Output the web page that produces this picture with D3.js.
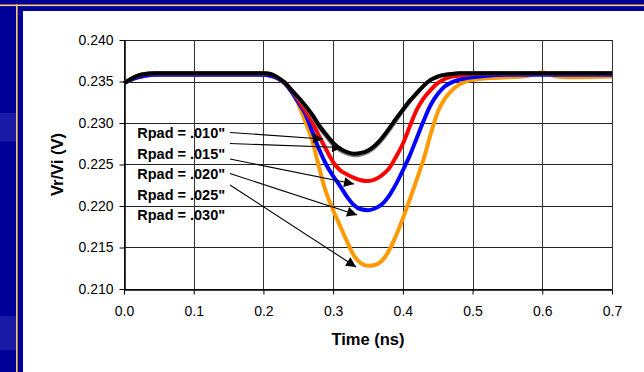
<!DOCTYPE html>
<html>
<head>
<meta charset="utf-8">
<script src="https://cdn.jsdelivr.net/npm/d3@7"></script>
<style>
  body { margin: 0; overflow: hidden; background: #000099; }
  text { font-family: Arial, "Liberation Sans", sans-serif; }
</style>
</head>
<body>
<div id="chart"></div>
<script>
// time axis (ns), shared by all traces
const TIME = [0, 0.01, 0.02, 0.03, 0.045, 0.1, 0.15, 0.2, 0.21, 0.22, 0.23, 0.24, 0.25, 0.26, 0.27,
  0.28, 0.29, 0.30, 0.31, 0.32, 0.33, 0.34, 0.35, 0.36, 0.37, 0.38, 0.39, 0.40, 0.41, 0.42, 0.43,
  0.44, 0.45, 0.46, 0.47, 0.48, 0.49, 0.50, 0.52, 0.55, 0.58, 0.60, 0.62, 0.65, 0.70]

// Vr/Vi (V)
const RPAD_010 = [0.2348, 0.2353, 0.2357, 0.2359, 0.2360, 0.2360, 0.2360, 0.2360, 0.2359, 0.2355, 0.2349,
  0.2340, 0.2330, 0.2320, 0.2308, 0.2295, 0.2284, 0.2274, 0.2267, 0.2263, 0.2261, 0.2262, 0.2265, 0.2271,
  0.2280, 0.2291, 0.2303, 0.2315, 0.2326, 0.2336, 0.2345, 0.2352, 0.2356, 0.2358, 0.2359, 0.2360, 0.2360,
  0.2360, 0.2360, 0.2360, 0.2360, 0.2360, 0.2360, 0.2360, 0.2360]
const RPAD_015 = [0.2348, 0.2353, 0.2357, 0.2359, 0.2360, 0.2360, 0.2360, 0.2360, 0.2359, 0.2355, 0.2349,
  0.2340, 0.2331, 0.2321, 0.2310, 0.2297, 0.2286, 0.2276, 0.2269, 0.2265, 0.2263, 0.2264, 0.2267, 0.2273,
  0.2282, 0.2293, 0.2305, 0.2316, 0.2327, 0.2336, 0.2345, 0.2352, 0.2356, 0.2358, 0.2359, 0.2360, 0.2360,
  0.2360, 0.2360, 0.2360, 0.2360, 0.2360, 0.2360, 0.2360, 0.2360]
const RPAD_020 = [0.2348, 0.2353, 0.2357, 0.2359, 0.2360, 0.2360, 0.2360, 0.2360, 0.2359, 0.2355, 0.2349,
  0.2340, 0.2328, 0.2315, 0.2301, 0.2284, 0.2268, 0.2253, 0.2243, 0.2238, 0.2234, 0.2231, 0.2230, 0.2232,
  0.2237, 0.2245, 0.2259, 0.2275, 0.2296, 0.2316, 0.2330, 0.2340, 0.2348, 0.2353, 0.2356, 0.2357, 0.2358,
  0.2359, 0.2360, 0.2360, 0.2360, 0.2360, 0.2360, 0.2360, 0.2360]
const RPAD_025 = [0.2348, 0.2352, 0.2355, 0.2357, 0.2358, 0.2358, 0.2358, 0.2358, 0.2357, 0.2354, 0.2348,
  0.2338, 0.2325, 0.2311, 0.2290, 0.2268, 0.2250, 0.2236, 0.2224, 0.2211, 0.2201, 0.2196, 0.2195, 0.2197,
  0.2202, 0.2212, 0.2226, 0.2243, 0.2261, 0.2282, 0.2303, 0.2322, 0.2335, 0.2344, 0.2349, 0.2352, 0.2354,
  0.2355, 0.2357, 0.2358, 0.2358, 0.2358, 0.2358, 0.2358, 0.2358]
const RPAD_030 = [0.2348, 0.2352, 0.2355, 0.2357, 0.2358, 0.2358, 0.2358, 0.2358, 0.2357, 0.2354, 0.2348,
  0.2339, 0.2323, 0.2302, 0.2279, 0.2246, 0.2216, 0.2195, 0.2176, 0.2157, 0.2140, 0.2131, 0.2128, 0.2129,
  0.2134, 0.2146, 0.2164, 0.2185, 0.2208, 0.2232, 0.2257, 0.2287, 0.2313, 0.2329, 0.2339, 0.2346, 0.2350,
  0.2352, 0.2354, 0.2355, 0.2357, 0.2361, 0.2356, 0.2355, 0.2356]

const LABELS = ['Rpad = .010"', 'Rpad = .015"', 'Rpad = .020"', 'Rpad = .025"', 'Rpad = .030"']
const COLORS = ['#808080', '#000000', '#ff0000', '#0000ff', '#ff9900']
// drawing order bottom -> top
const ORDER = [4, 3, 2, 0, 1]

// annotation anchors, in data units
const LABEL_X = 0.019
const LABEL_Y = [0.22816, 0.22572, 0.22325, 0.22078, 0.21831]
const ARROW_X0 = 0.152
const ARROW_Y0 = [0.22886, 0.22753, 0.22566, 0.22392, 0.22253]
const ARROW_X1 = [0.2855, 0.3128, 0.3300, 0.3343, 0.3329]
const ARROW_Y1 = [0.22807, 0.22705, 0.22265, 0.21892, 0.21265]

const X_TICKS = [0, 0.1, 0.2, 0.3, 0.4, 0.5, 0.6, 0.7]
const Y_TICKS = [0.210, 0.215, 0.220, 0.225, 0.230, 0.235, 0.240]

const W = 644, H = 372
const series = [RPAD_010, RPAD_015, RPAD_020, RPAD_025, RPAD_030]

const svg = d3.select('#chart').append('svg')
  .attr('width', W).attr('height', H)

// slide background + frame
svg.append('rect').attr('width', W).attr('height', H).attr('fill', '#000099')
svg.append('rect').attr('x', 0).attr('y', 113).attr('width', 16).attr('height', 28).attr('fill', '#1a1aa6')
svg.append('rect').attr('x', 0).attr('y', 316).attr('width', 16).attr('height', 34).attr('fill', '#1a1aa6')
svg.append('rect').attr('x', 0).attr('y', 4.5).attr('width', W).attr('height', 1.6).attr('fill', '#ffcc66')
svg.append('rect').attr('x', 16).attr('y', 4.5).attr('width', 1.6).attr('height', H).attr('fill', '#ffcc66')
svg.append('rect').attr('x', 23).attr('y', 11).attr('width', W - 23).attr('height', H - 11).attr('fill', '#fff')

const x = d3.scaleLinear().domain([0, 0.7]).range([124, 612])
const y = d3.scaleLinear().domain([0.210, 0.240]).range([289, 40])

// grid
const grid = svg.append('g').attr('shape-rendering', 'crispEdges')
grid.selectAll('line.h').data(Y_TICKS).join('line')
  .attr('x1', x(0)).attr('x2', x(0.7))
  .attr('y1', d => Math.round(y(d)) + 0.5).attr('y2', d => Math.round(y(d)) + 0.5)
  .attr('stroke', '#222').attr('stroke-width', 1)
grid.selectAll('line.v').data(X_TICKS).join('line')
  .attr('y1', y(0.240)).attr('y2', y(0.210))
  .attr('x1', d => Math.round(x(d)) + 0.5).attr('x2', d => Math.round(x(d)) + 0.5)
  .attr('stroke', '#333').attr('stroke-width', 1)

// axes
const xAxis = svg.append('g')
  .attr('transform', `translate(0,${Math.round(y(0.210)) + 0.5})`)
  .call(d3.axisBottom(x).tickValues(X_TICKS).tickFormat(d3.format('.1f'))
    .tickSize(5).tickSizeOuter(0).tickPadding(12))
const yAxis = svg.append('g')
  .attr('transform', `translate(${Math.round(x(0)) + 0.5},0)`)
  .call(d3.axisLeft(y).tickValues(Y_TICKS).tickFormat(d3.format('.3f'))
    .tickSize(5).tickSizeOuter(0).tickPadding(6))
for (const a of [xAxis, yAxis]) {
  a.select('.domain').attr('stroke', '#000').attr('stroke-width', 1.5)
  a.selectAll('.tick line').attr('stroke', '#000')
  a.selectAll('.tick text').attr('fill', '#000').style('font-size', '14px')
    .style('font-family', 'Arial, "Liberation Sans", sans-serif')
}

// traces
const line = d3.line()
  .x((d, i) => x(TIME[i]))
  .y(d => y(d))
  .curve(d3.curveMonotoneX)

svg.append('g').selectAll('path').data(ORDER).join('path')
  .attr('d', k => line(series[k]))
  .attr('fill', 'none')
  .attr('stroke', k => COLORS[k])
  .attr('stroke-width', 4)
  .attr('stroke-linejoin', 'round')

// arrows
svg.append('defs').append('marker')
  .attr('id', 'head')
  .attr('viewBox', '0 0 10 10')
  .attr('refX', 10).attr('refY', 5)
  .attr('markerUnits', 'userSpaceOnUse')
  .attr('markerWidth', 12).attr('markerHeight', 10)
  .attr('orient', 'auto')
  .append('path').attr('d', 'M0,0L10,5L0,10Z').attr('fill', '#000')

svg.append('g').selectAll('line').data(LABELS).join('line')
  .attr('x1', x(ARROW_X0))
  .attr('y1', (d, i) => y(ARROW_Y0[i]))
  .attr('x2', (d, i) => x(ARROW_X1[i]))
  .attr('y2', (d, i) => y(ARROW_Y1[i]))
  .attr('stroke', '#000').attr('stroke-width', 1.1)
  .attr('marker-end', 'url(#head)')

// labels
svg.append('g').selectAll('text').data(LABELS).join('text')
  .attr('x', x(LABEL_X))
  .attr('y', (d, i) => y(LABEL_Y[i]))
  .style('font-size', '14.5px').style('font-weight', 'bold')
  .attr('fill', '#000')
  .text(d => d)

// axis titles
svg.append('text')
  .attr('x', (x(0) + x(0.7)) / 2).attr('y', 345)
  .attr('text-anchor', 'middle')
  .style('font-size', '16.5px').style('font-weight', 'bold')
  .text('Time (ns)')
svg.append('text')
  .attr('transform', `translate(63,${(y(0.210) + y(0.240)) / 2}) rotate(-90)`)
  .attr('text-anchor', 'middle')
  .style('font-size', '16.5px').style('font-weight', 'bold')
  .text('Vr/Vi (V)')
</script>
</body>
</html>
